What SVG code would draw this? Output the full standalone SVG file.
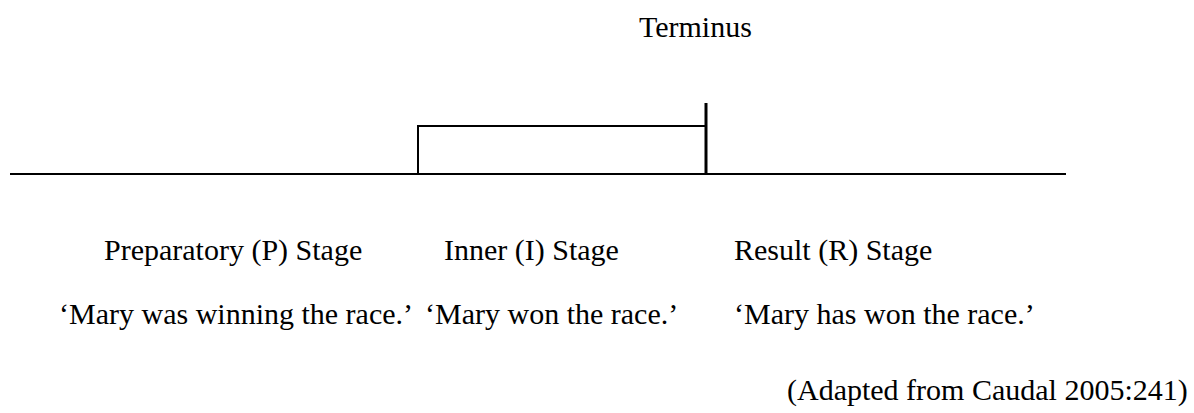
<svg xmlns="http://www.w3.org/2000/svg" width="1194" height="413" viewBox="0 0 1194 413">
<style>
text{font-family:"Liberation Serif","Times New Roman",serif;font-size:30px;fill:#000}
.ln{stroke:#000;fill:none;stroke-width:2}
</style>
<rect width="1194" height="413" fill="#fff"/>
<g id="connectors">
<line class="ln" x1="10" y1="174" x2="1066" y2="174"/>
</g>
<g id="inner-box">
<rect class="ln" x="418" y="126" width="288" height="48"/>
</g>
<g id="terminus-bar">
<line x1="706" y1="103" x2="706" y2="175" stroke="#000" stroke-width="3"/>
</g>
<g id="terminus"><text x="639" y="37">Terminus</text></g>
<g id="stage-p"><text x="104" y="260">Preparatory (P) Stage</text></g>
<g id="stage-i"><text x="444" y="260">Inner (I) Stage</text></g>
<g id="stage-r"><text x="734" y="260">Result (R) Stage</text></g>
<g id="ex-p"><text x="59" y="324">‘Mary was winning the race.’</text></g>
<g id="ex-i"><text x="425" y="324">‘Mary won the race.’</text></g>
<g id="ex-r"><text x="734" y="324">‘Mary has won the race.’</text></g>
<g id="citation"><text x="787" y="400">(Adapted from Caudal 2005:241)</text></g>
</svg>
